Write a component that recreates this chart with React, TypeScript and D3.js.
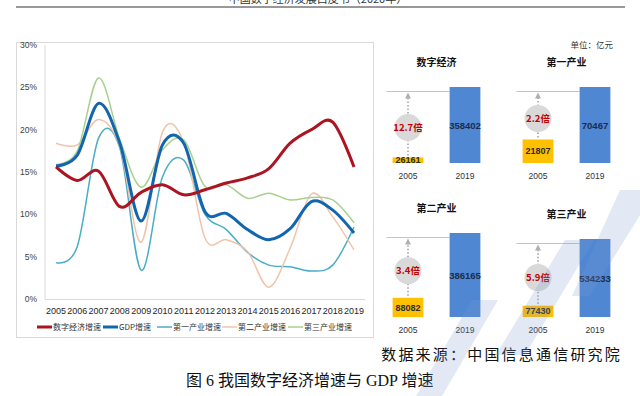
import React from 'react';
import * as d3 from 'd3';

const years = ['2005', '2006', '2007', '2008', '2009', '2010', '2011', '2012', '2013', '2014', '2015', '2016', '2017', '2018', '2019'];
const digitalGrowth = [15.6, 14.0, 15.1, 10.9, 12.6, 13.5, 12.3, 12.9, 13.7, 14.3, 15.4, 18.4, 20.0, 20.9, 15.6];
const gdpGrowth = [15.7, 17.0, 23.1, 18.4, 9.2, 18.2, 18.4, 10.3, 10.1, 8.2, 7.0, 8.3, 11.5, 10.5, 7.8];
const primaryGrowth = [4.3, 6.2, 19.0, 17.8, 3.4, 14.4, 16.4, 10.0, 8.2, 5.5, 4.0, 3.8, 3.3, 4.0, 8.5];
const secondaryGrowth = [18.4, 18.2, 21.2, 18.0, 6.7, 19.7, 18.5, 7.2, 7.0, 5.6, 1.4, 6.0, 12.4, 9.7, 5.8];
const tertiaryGrowth = [15.9, 17.5, 26.1, 18.8, 13.2, 17.6, 18.8, 13.3, 13.5, 11.9, 12.5, 11.7, 12.0, 11.7, 9.0];
const seriesNames = ['数字经济增速', 'GDP增速', '第一产业增速', '第二产业增速', '第三产业增速'];
const yTicks = [0, 5, 10, 15, 20, 25, 30];

const panelTitles = ['数字经济', '第一产业', '第二产业', '第三产业'];
const panelYears = ['2005', '2019'];
const value2005 = [26161, 21807, 88082, 77430];
const value2019 = [358402, 70467, 386165, 534233];
const multiples = ['12.7倍', '2.2倍', '3.4倍', '5.9倍'];

const cjk = '"Noto Sans CJK SC", "Noto Sans", sans-serif';
const num = '"Liberation Sans", Arial, sans-serif';
const serif = '"Liberation Serif", "Noto Sans CJK SC", serif';

const seriesStyle = [
  { color: '#ad1421', width: 3 },
  { color: '#1266b0', width: 3 },
  { color: '#4bacc6', width: 1.5 },
  { color: '#f0c4ab', width: 1.5 },
  { color: '#a9d08e', width: 1.5 },
];

// where each small panel sits
const panels = [
  { left: 379.5, baseline: 163, top: 87 },
  { left: 509.5, baseline: 163, top: 87 },
  { left: 379.5, baseline: 317, top: 233 },
  { left: 509.5, baseline: 317, top: 239 },
];

const LineChart = () => {
  const x = d3.scalePoint().domain(years).range([56, 354]);
  const y = d3.scaleLinear().domain([0, 30]).range([299, 45]);
  const line = d3.line<number>()
    .x((d, i) => x(years[i]) as number)
    .y(d => y(d))
    .curve(d3.curveCatmullRom.alpha(0));
  const data = [digitalGrowth, gdpGrowth, primaryGrowth, secondaryGrowth, tertiaryGrowth];
  const order = [2, 3, 4, 1, 0];
  const legendX = [37, 103, 157, 222, 288];

  return (
    <g>
      <rect x={16.5} y={42.5} width={357} height={295} fill="none" stroke="#d9d9d9" />
      <line x1={45} x2={45} y1={45} y2={299} stroke="#d9d9d9" />
      <line x1={45} x2={365} y1={299.5} y2={299.5} stroke="#d9d9d9" />
      {yTicks.map(t => (
        <text key={t} x={37} y={y(t)} dy="0.35em" textAnchor="end" fontSize={8.5} fontFamily={num} fill="#404040">{t}%</text>
      ))}
      {years.map(yr => (
        <text key={yr} x={x(yr)} y={311} dy="0.35em" textAnchor="middle" fontSize={9} fontFamily={num} fill="#262626">{yr}</text>
      ))}
      {order.map(i => (
        <path key={i} d={line(data[i]) as string} fill="none" stroke={seriesStyle[i].color} strokeWidth={seriesStyle[i].width} strokeLinejoin="round" />
      ))}
      {seriesNames.map((n, i) => (
        <g key={n} transform={`translate(${legendX[i]},327)`}>
          <line x1={0} x2={15} y1={0} y2={0} stroke={seriesStyle[i].color} strokeWidth={seriesStyle[i].width} />
          <text x={16} y={0} dy="0.35em" fontSize={8} fontFamily={cjk} fill="#333">{n}</text>
        </g>
      ))}
    </g>
  );
};

const Panel = ({ idx }: { idx: number }) => {
  const p = panels[idx];
  const xb = d3.scaleBand().domain(panelYears).range([p.left, p.left + 114]).paddingInner(0.46).paddingOuter(0.23);
  const yb = d3.scaleLinear().domain([0, value2019[idx]]).range([p.baseline, p.top]);
  const bw = xb.bandwidth();
  const x05 = xb('2005') as number;
  const x19 = xb('2019') as number;
  const c05 = x05 + bw / 2;
  const c19 = x19 + bw / 2;
  const top05 = yb(value2005[idx]);
  const refY = p.top + 4.5;
  const circleY = (refY + top05) / 2 + 3;

  return (
    <g>
      <text x={p.left + 57} y={p.top - 25} dy="0.35em" textAnchor="middle" fontSize={10} fontWeight="bold" fontFamily={cjk} fill="#111">{panelTitles[idx]}</text>
      <line x1={p.left + 7} x2={x19} y1={refY} y2={refY} stroke="#c4c4c4" strokeWidth={1} />
      <line x1={c05} x2={c05} y1={top05 - 2} y2={refY + 6} stroke="#a6a6a6" strokeWidth={1.6} strokeDasharray="1.5 2" />
      <path d={`M${c05},${refY + 1}L${c05 - 3},${refY + 7}L${c05 + 3},${refY + 7}Z`} fill="#b0b0b0" />
      <circle cx={c05} cy={circleY} r={13.5} fill="#d9d9d9" />
      <text x={c05} y={circleY} dy="0.35em" textAnchor="middle" fontSize={9.5} fontWeight="bold" fontFamily={cjk} fill="#c00000">{multiples[idx]}</text>
      <rect x={x05} y={top05} width={bw} height={p.baseline - top05} fill="#ffc000" />
      <rect x={x19} y={p.top} width={bw} height={p.baseline - p.top} fill="#4f87d3" />
      <text x={c05} y={(top05 + p.baseline) / 2} dy="0.35em" textAnchor="middle" fontSize={9} fontWeight="bold" fontFamily={num} fill="#2b2b2b">{value2005[idx]}</text>
      <text x={c19} y={(p.top + p.baseline) / 2 + 1} dy="0.35em" textAnchor="middle" fontSize={9.5} fontWeight="bold" fontFamily={num} fill="#1c2c4c">{value2019[idx]}</text>
      {panelYears.map(yr => (
        <text key={yr} x={(xb(yr) as number) + bw / 2} y={p.baseline + 13} dy="0.35em" textAnchor="middle" fontSize={8.5} fontFamily={num} fill="#333">{yr}</text>
      ))}
    </g>
  );
};

const App = () => {
  return (
    <svg width={640} height={396} style={{ position: 'absolute', left: 0, top: 0, background: '#fff' }}>
      <rect width={640} height={396} fill="#fff" />
      <text x={318} y={3} textAnchor="middle" fontSize={11} fontFamily={cjk} fill="#333">中国数字经济发展白皮书（2020年）</text>
      <line x1={16} x2={625} y1={7} y2={7} stroke="#333" strokeWidth={1} />
      <LineChart />
      {panels.map((p, i) => <Panel key={i} idx={i} />)}
      <text x={613} y={45} dy="0.35em" textAnchor="end" fontSize={8.5} fontFamily={cjk} fill="#333">单位：亿元</text>
      <text x={622} y={360} textAnchor="end" fontSize={15} letterSpacing={2.2} fontFamily={serif} fill="#111">数据来源：中国信息通信研究院</text>
      <text x={186} y={386} fontSize={16} fontFamily={serif} fill="#111">图 6 我国数字经济增速与 GDP 增速</text>
      {/* watermark strokes */}
      <g fill="#7d9ad0" opacity={0.22}>
        <path d="M472,300L498,300L442,396L416,396Z" />
        <path d="M565,240L594,240L525,355L496,355Z" />
        <path d="M620,190L640,190L640,215L590,296L572,296Z" />
      </g>
    </svg>
  );
};

export default App;
